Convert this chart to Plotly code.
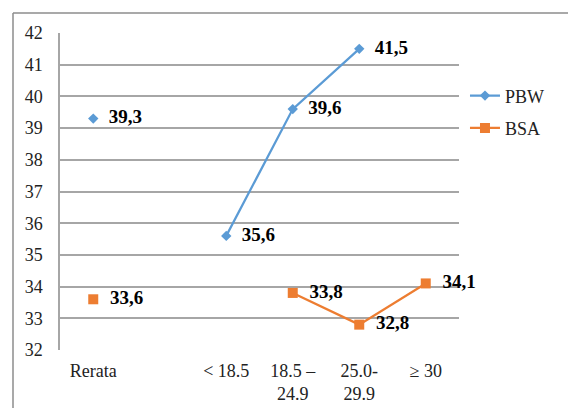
import plotly.graph_objects as go

categories = ["Rerata", " ", "< 18.5", "18.5 \u2013<br>24.9", "25.0-<br>29.9", "\u2265 30"]
pbw = [39.3, None, 35.6, 39.6, 41.5, None]
bsa = [33.6, None, None, 33.8, 32.8, 34.1]
y_ticks = list(range(32, 43))

def lab(vals):
    return ["" if v is None else "\u00a0\u00a0" + f"{v:.1f}".replace(".", ",") for v in vals]

font_family = "Liberation Serif, Times New Roman, serif"

fig = go.Figure()
fig.add_trace(go.Scatter(
    x=categories, y=pbw, name="PBW", mode="lines+markers+text", legendgroup="pbw",
    line=dict(color="#5B9BD5", width=2.25),
    marker=dict(symbol="diamond", size=8, color="#5B9BD5"),
    text=lab(pbw), textposition="middle right",
    textfont=dict(family=font_family, size=19, color="#000000", weight="bold"),
    connectgaps=False, cliponaxis=False,
))
fig.add_trace(go.Scatter(
    x=categories, y=bsa, name="BSA", mode="lines+markers+text", legendgroup="bsa",
    line=dict(color="#ED7D31", width=2.25),
    marker=dict(symbol="square", size=10, color="#ED7D31"),
    text=lab(bsa), textposition="middle right",
    textfont=dict(family=font_family, size=19, color="#000000", weight="bold"),
    connectgaps=False, cliponaxis=False,
))

W, H = 576, 408
ml, mr, mt, mb = 52, 125, 25, 66
pw, ph = W - ml - mr, H - mt - mb
bx = (5 - ml) / pw
by = (H - mb - 5) / ph

fig.update_layout(
    width=W, height=H,
    margin=dict(l=ml, r=mr, t=mt, b=mb),
    paper_bgcolor="white", plot_bgcolor="white",
    font=dict(family=font_family, size=18, color="#222222"),
    showlegend=True,
    legend=dict(x=1.015, y=0.86, xanchor="left", yanchor="top",
                font=dict(family=font_family, size=18, color="#222222"),
                traceorder="grouped", tracegroupgap=6, bgcolor="rgba(0,0,0,0)"),
    xaxis=dict(type="category", categoryorder="array", categoryarray=categories,
               range=[-0.5, 5.5], showgrid=False, showline=False, ticks="",
               ticklabelstandoff=8,
               tickfont=dict(family=font_family, size=18, color="#222222"),
               zeroline=False),
    yaxis=dict(range=[32, 42], tickvals=y_ticks, showgrid=True, gridcolor="#a6a6a6",
               gridwidth=1.5, showline=True, linecolor="#a6a6a6", linewidth=1.5,
               ticks="", ticklabelstandoff=12, zeroline=False,
               tickfont=dict(family=font_family, size=18, color="#222222")),
    shapes=[
        dict(type="line", xref="paper", yref="paper", x0=bx, x1=bx, y0=-0.5, y1=by,
             line=dict(color="#8c8c8c", width=1.5)),
        dict(type="line", xref="paper", yref="paper", x0=bx, x1=2, y0=by, y1=by,
             line=dict(color="#8c8c8c", width=1.5)),
    ],
)

fig.write_html("out.html")
